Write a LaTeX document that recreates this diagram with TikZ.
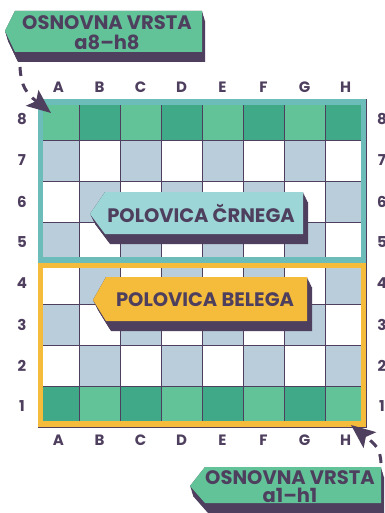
\documentclass[tikz,border=0pt]{standalone}
\usepackage{fontspec}
\setmainfont{Poppins}[BoldFont={Poppins Bold}]
\usepackage{xcolor}
\usetikzlibrary{arrows.meta, positioning}

\definecolor{ink}{HTML}{4E3F5E}
\definecolor{mint}{HTML}{63C398}
\definecolor{pine}{HTML}{40AA88}
\definecolor{slate}{HTML}{B9CDDA}
\definecolor{framecyan}{HTML}{6CBDB9}
\definecolor{aqua}{HTML}{9DD6D6}
\definecolor{amber}{HTML}{F5BC3B}

% banner with a pointed left end and an extruded shadow
% #1 left, #2 top, #3 right, #4 bottom, #5/#6 point, #7/#8 shadow shift, #9 fill
\newcommand{\flagshape}[9]{%
  \foreach \t in {0,0.125,...,1}
    \fill[ink] ({#1+\t*#7},{#2+\t*#8}) -- ({#3+\t*#7},{#2+\t*#8})
      -- ({#3+\t*#7},{#4+\t*#8}) -- ({#1+\t*#7},{#4+\t*#8})
      -- ({#5+\t*#7},{#6+\t*#8}) -- cycle;
  \fill[#9] (#1,#2) -- (#3,#2) -- (#3,#4) -- (#1,#4) -- (#5,#6) -- cycle;}

\begin{document}
\begin{tikzpicture}[
  x=1pt, y=-1pt,
  cell/.style={draw=ink, line width=0.9pt},
  halfframe/.style={line width=5.5pt},
  coordlabel/.style={text=ink, font=\bfseries\fontsize{15}{17}\selectfont, inner sep=0pt},
  flagtext/.style={text=ink, align=center, inner sep=0pt,
                   font=\bfseries\fontsize{19.5}{20}\selectfont},
  pointer/.style={ink, line width=3pt, dash pattern=on 9pt off 8pt,
                  -{Stealth[length=24pt, width=20pt, inset=5pt]}},
]
  \useasboundingbox (0,0) rectangle (384,513);
  \clip (0,0) rectangle (384,513);

  % squares
  \foreach \r in {1,...,8}
    \foreach \c in {1,...,8} {
      \pgfmathtruncatemacro{\odd}{mod(\r+\c,2)}
      \ifnum\odd=0 \colorlet{cellfill}{slate}\else\colorlet{cellfill}{white}\fi
      \ifnum\r=1 \ifnum\odd=0 \colorlet{cellfill}{pine}\else\colorlet{cellfill}{mint}\fi\fi
      \ifnum\r=8 \ifnum\odd=0 \colorlet{cellfill}{pine}\else\colorlet{cellfill}{mint}\fi\fi
      \draw[cell, fill=cellfill] ({38+41*(\c-1)},{99+41*(8-\r)}) rectangle +(41,41);
    }

  % the two halves
  \draw[halfframe, framecyan] (40.5,102) rectangle (363.5,260);
  \draw[halfframe, amber] (40.5,265.5) rectangle (363.5,424);

  % files and ranks
  \foreach \f [count=\i] in {A,B,C,D,E,F,G,H} {
    \node[coordlabel] (top\f) at ({38+41*\i-20.5},87) {\f};
    \node[coordlabel] (bot\f) at ({38+41*\i-20.5},440) {\f};
  }
  \foreach \r in {1,...,8} {
    \node[coordlabel] (left\r) at (22,{99+41*(8-\r)+20.5}) {\r};
    \node[coordlabel] (right\r) at (382,{99+41*(8-\r)+20.5}) {\r};
  }

  % half labels
  \flagshape{105}{192}{303}{234}{90}{214}{5}{10}{aqua}
  \node[flagtext] (blackhalf) at (201,213) {POLOVICA ČRNEGA};
  \flagshape{106}{277}{307}{321}{93}{300}{5}{10}{amber}
  \node[flagtext] (whitehalf) at (205,300) {POLOVICA BELEGA};

  % back ranks
  \flagshape{15}{11}{202}{52}{5}{31}{3}{10}{mint}
  \node[flagtext] (rankeight) at (107,33) {OSNOVNA VRSTA\\a8--h8};
  \flagshape{205}{467}{381}{503}{190}{486}{3}{10}{mint}
  \node[flagtext, font=\bfseries\fontsize{19.5}{18}\selectfont]
    (rankone) at (290,487) {OSNOVNA VRSTA\\a1--h1};

  \coordinate (eightfrom) at (20,67);
  \coordinate (eightto) at (51,113);
  \draw[pointer] (eightfrom) .. controls (21,86) and (26,93) .. (eightto);
  \coordinate (onefrom) at (381,463);
  \coordinate (oneto) at (351,425);
  \draw[pointer] (onefrom) .. controls (380,448) and (376,445) .. (oneto);
\end{tikzpicture}
\end{document}
